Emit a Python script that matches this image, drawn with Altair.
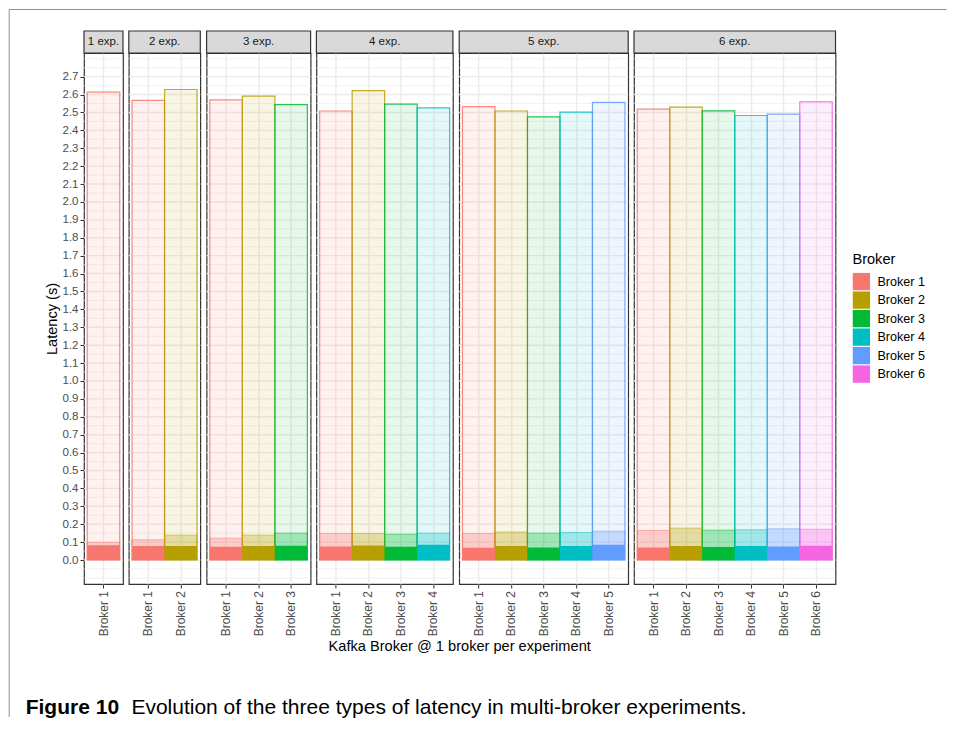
import altair as alt
import pandas as pd

# ---------------- data ----------------
brokers = ["Broker 1", "Broker 2", "Broker 3", "Broker 4", "Broker 5", "Broker 6"]
colors = ["#F8766D", "#B79F00", "#00BA38", "#00BFC4", "#619CFF", "#F564E3"]
exp_labels = ["1 exp.", "2 exp.", "3 exp.", "4 exp.", "5 exp.", "6 exp."]

total_latency = [
    [2.613],
    [2.567, 2.628],
    [2.570, 2.591, 2.544],
    [2.508, 2.622, 2.546, 2.526],
    [2.533, 2.508, 2.475, 2.502, 2.556],
    [2.519, 2.530, 2.509, 2.483, 2.491, 2.559],
]
mid_latency = [
    [0.098],
    [0.113, 0.139],
    [0.122, 0.139, 0.150],
    [0.148, 0.148, 0.144, 0.150],
    [0.148, 0.156, 0.150, 0.154, 0.161],
    [0.165, 0.178, 0.167, 0.169, 0.174, 0.172],
]
low_latency = [
    [0.083],
    [0.078, 0.078],
    [0.074, 0.078, 0.080],
    [0.076, 0.081, 0.074, 0.085],
    [0.069, 0.078, 0.070, 0.078, 0.085],
    [0.070, 0.078, 0.072, 0.078, 0.076, 0.080],
]

y_ticks = [round(i * 0.1, 1) for i in range(28)]          # 0.0 .. 2.7
grid_major = y_ticks
grid_minor = [round(-0.1 + i * 0.05, 2) for i in range(59)]
grid_minor = [g for g in grid_minor if g not in grid_major]

x_title = "Kafka Broker @ 1 broker per experiment"
caption_bold = "Figure 10"
caption_text = "Evolution of the three types of latency in multi-broker experiments."
legend_title = "Broker"
y_title = "Latency (s)"

# ---------------- style ----------------
FONT = "Liberation Sans"
STEP = 32.5
HEIGHT = 531
Y_DOMAIN = [-0.134, 2.832]
GRID = "#EBEBEB"
DARK = "#333333"

yscale = alt.Scale(domain=Y_DOMAIN, nice=False, zero=False)
fill_scale = alt.Scale(domain=brokers, range=colors)

xaxis = alt.Axis(
    labelAngle=-90, labelFontSize=12, labelColor="#4D4D4D", labelPadding=2.5,
    tickSize=4, tickColor=DARK, tickWidth=1, domain=False, grid=True,
    gridColor=GRID, gridWidth=1.4, bandPosition=0.5, title=None,
)
yaxis_main = alt.Axis(
    values=y_ticks, format=".1f", grid=False, domain=False,
    tickSize=4, tickColor=DARK, tickWidth=1, labelFontSize=11.5,
    labelColor="#4D4D4D", labelPadding=2, title=y_title, titleFontSize=14.6,
    titleFontWeight="normal", titleColor="black", titlePadding=3,
)

legend = alt.Legend(
    title=legend_title, orient="none", legendX=768.4, legendY=199,
    symbolType="square", symbolSize=300, symbolStrokeWidth=0, symbolOpacity=1,
    symbolStrokeColor="transparent",
    labelFontSize=12.6, labelColor="black", labelOffset=7, rowPadding=0.5,
    titleFontSize=14.6, titleFontWeight="normal", titleColor="black",
    titlePadding=6, padding=0,
)


def panel(i):
    n = i + 1
    w = 6.5 + STEP * n
    df = pd.DataFrame({
        "broker": brokers[:n],
        "total": total_latency[i],
        "mid": mid_latency[i],
        "low": low_latency[i],
    })
    yaxis = yaxis_main if i == 0 else None
    xenc = alt.X("broker:N", sort=brokers[:n],
                 scale=alt.Scale(domain=brokers[:n], paddingInner=0, paddingOuter=0.1),
                 axis=xaxis)
    fill_enc = alt.Fill("broker:N", scale=fill_scale, legend=legend)
    stroke_enc = alt.Stroke("broker:N", scale=fill_scale, legend=legend)
    base = alt.Chart(df)

    gmaj = alt.Chart(pd.DataFrame({"v": grid_major})).mark_rule(
        color=GRID, strokeWidth=1.4).encode(y=alt.Y("v:Q", scale=yscale, axis=yaxis))
    gmin = alt.Chart(pd.DataFrame({"v": grid_minor})).mark_rule(
        color=GRID, strokeWidth=0.7).encode(y=alt.Y("v:Q", scale=yscale, axis=yaxis))

    top = base.mark_bar(fillOpacity=0.1, strokeWidth=1.2, strokeOpacity=0.85).encode(
        x=xenc, y=alt.Y("total:Q", scale=yscale, axis=yaxis),
        fill=fill_enc, stroke=stroke_enc,
    )
    mid = base.mark_bar(fillOpacity=0.3, strokeWidth=1.0, strokeOpacity=0.5).encode(
        x=xenc, y=alt.Y("mid:Q", scale=yscale, axis=yaxis),
        fill=fill_enc, stroke=stroke_enc,
    )
    low = base.mark_bar(fillOpacity=1, strokeWidth=0).encode(
        x=xenc, y=alt.Y("low:Q", scale=yscale, axis=yaxis),
        fill=fill_enc,
    )

    lab = pd.DataFrame({"lab": [exp_labels[i]]})
    strip_rect = alt.Chart(lab).mark_rect(
        fill="#D9D9D9", stroke=DARK, strokeWidth=1.2).encode(
        x=alt.value(0), x2=alt.value(w), y=alt.value(-22), y2=alt.value(0))
    strip_text = alt.Chart(lab).mark_text(
        fontSize=11.5, color="#1A1A1A", align="center", baseline="middle").encode(
        x=alt.value(w / 2), y=alt.value(-11), text="lab:N")

    layers = [gmin, gmaj, top, mid, low, strip_rect, strip_text]

    if i == 0:
        ann = pd.DataFrame({"t": [x_title], "b": [caption_bold], "c": [caption_text]})
        xt = alt.Chart(ann).mark_text(
            fontSize=14.6, color="black", align="center", baseline="alphabetic").encode(
            x=alt.value(375.7), y=alt.value(598), text="t:N")
        cb = alt.Chart(ann).mark_text(
            fontSize=21, fontWeight="bold", color="black", align="left",
            baseline="alphabetic").encode(x=alt.value(-58.3), y=alt.value(661), text="b:N")
        ct = alt.Chart(ann).mark_text(
            fontSize=21, color="black", align="left",
            baseline="alphabetic").encode(x=alt.value(47.4), y=alt.value(661), text="c:N")
        fv = alt.Chart(ann).mark_rule(color="#7A94B4", strokeWidth=1).encode(
            x=alt.value(-74.8), y=alt.value(-43.5), y2=alt.value(664))
        fh = alt.Chart(ann).mark_rule(color="#7A94B4", strokeWidth=1).encode(
            x=alt.value(-74.8), x2=alt.value(862.7), y=alt.value(-43.5))
        layers += [xt, cb, ct, fv, fh]

    return alt.layer(*layers).properties(width=w, height=HEIGHT)


chart = (
    alt.hconcat(*[panel(i) for i in range(6)], spacing=5.8, bounds="flush")
    .resolve_scale(x="independent", fill="shared", stroke="shared")
    .properties(padding=0)
    .configure(font=FONT)
    .configure_view(stroke=DARK, strokeWidth=1.2)
    .configure_axis(labelFont=FONT, titleFont=FONT)
    .configure_legend(labelFont=FONT, titleFont=FONT)
)

chart.save("out.html", embed_options={"renderer": "svg", "actions": False})
